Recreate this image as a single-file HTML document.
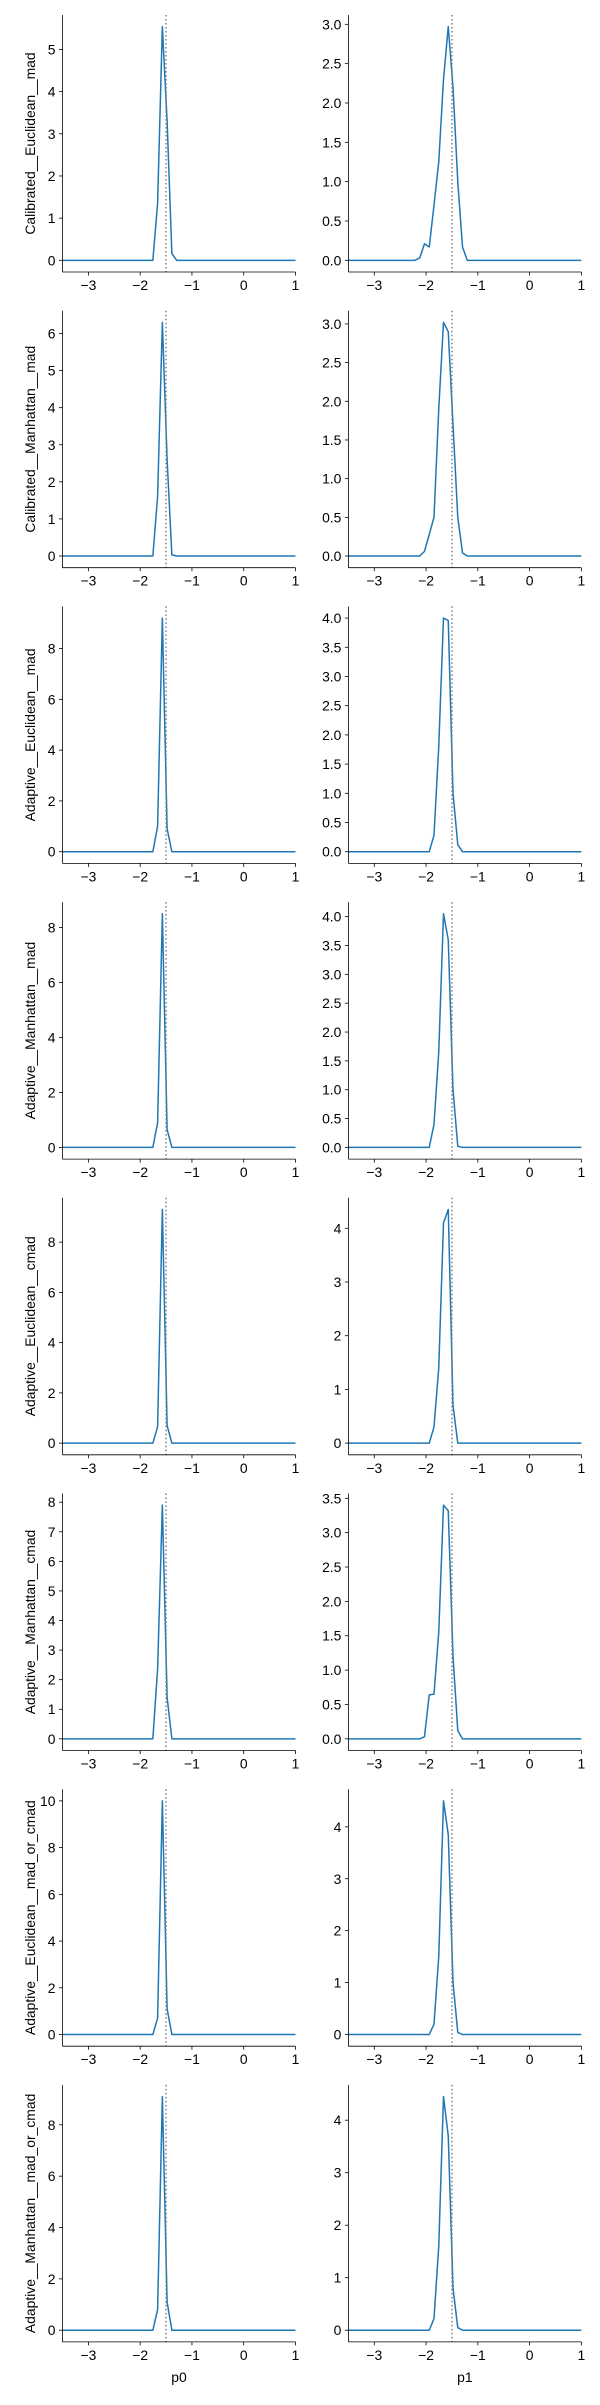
<!DOCTYPE html>
<html>
<head>
<meta charset="utf-8">
<style>
html,body{margin:0;padding:0;background:#fff;}
svg text{font-family:"Liberation Sans","DejaVu Sans",sans-serif;font-size:13.9px;fill:#000;}
</style>
</head>
<body>
<svg id="chart" width="600" height="2400" viewBox="0 0 600 2400" xmlns="http://www.w3.org/2000/svg"></svg>
<script>
// x grid: 50 evaluation points between -3.5 and 1 (linspace)
const xMin = -3.5, xMax = 1, nPoints = 50;
const startIndex = 14; // values below cover grid points 14..25, all others are 0
const trueValue = -1.5;
const xTicks = [-3, -2, -1, 0, 1];
const xTickLabels = ["\u22123", "\u22122", "\u22121", "0", "1"];
const rowLabels = ["Calibrated__Euclidean__mad","Calibrated__Manhattan__mad","Adaptive__Euclidean__mad","Adaptive__Manhattan__mad","Adaptive__Euclidean__cmad","Adaptive__Manhattan__cmad","Adaptive__Euclidean__mad_or_cmad","Adaptive__Manhattan__mad_or_cmad"];
const colLabels = ["p0", "p1"];

const p0Row1 = [0,0,0,0,0,0,1.35,5.54,3.3,0.16,0,0];
const p0Row2 = [0,0,0,0,0,0,1.6,6.3,2.6,0.03,0,0];
const p0Row3 = [0,0,0,0,0,0,1.0,9.2,0.9,0,0,0];
const p0Row4 = [0,0,0,0,0,0,0.9,8.5,0.65,0,0,0];
const p0Row5 = [0,0,0,0,0,0,0.65,9.3,0.7,0,0,0];
const p0Row6 = [0,0,0,0,0,0,2.35,7.9,1.4,0,0,0];
const p0Row7 = [0,0,0,0,0,0,0.7,10.0,1.1,0,0,0];
const p0Row8 = [0,0,0,0,0,0,0.8,9.1,1.1,0,0,0];

const p1Row1 = [0,0.03,0.21,0.17,0.7,1.25,2.3,2.97,2.2,1.0,0.17,0];
const p1Row2 = [0,0,0.06,0.28,0.5,1.9,3.02,2.9,1.7,0.5,0.04,0];
const p1Row3 = [0,0,0,0,0.28,1.8,4.0,3.96,1.0,0.12,0,0];
const p1Row4 = [0,0,0,0,0.4,1.65,4.05,3.6,1.0,0.02,0,0];
const p1Row5 = [0,0,0,0,0.3,1.4,4.1,4.35,0.7,0,0,0];
const p1Row6 = [0,0,0.03,0.64,0.65,1.55,3.4,3.32,1.2,0.12,0,0];
const p1Row7 = [0,0,0,0,0.2,1.5,4.5,3.85,1.0,0.04,0,0];
const p1Row8 = [0,0,0,0,0.22,1.6,4.45,3.7,0.8,0.05,0,0];

const p0Series = [p0Row1,p0Row2,p0Row3,p0Row4,p0Row5,p0Row6,p0Row7,p0Row8];
const p1Series = [p1Row1,p1Row2,p1Row3,p1Row4,p1Row5,p1Row6,p1Row7,p1Row8];

const p0Ticks = [[0,1,2,3,4,5],[0,1,2,3,4,5,6],[0,2,4,6,8],[0,2,4,6,8],[0,2,4,6,8],[0,1,2,3,4,5,6,7,8],[0,2,4,6,8,10],[0,2,4,6,8]];
const p1Ticks = [[0,0.5,1,1.5,2,2.5,3],[0,0.5,1,1.5,2,2.5,3],[0,0.5,1,1.5,2,2.5,3,3.5,4],[0,0.5,1,1.5,2,2.5,3,3.5,4],[0,1,2,3,4],[0,0.5,1,1.5,2,2.5,3,3.5],[0,1,2,3,4],[0,1,2,3,4]];
const p1TickDecimals = [1,1,1,1,0,1,0,0];

const NS = "http://www.w3.org/2000/svg";
const svg = document.getElementById("chart");
function mk(tag, attrs, parent){
  const e = document.createElementNS(NS, tag);
  for (const k in attrs) e.setAttribute(k, attrs[k]);
  (parent||svg).appendChild(e);
  return e;
}
const colLeft = [62.5, 348.4], colWidth = 233;
const rowTop0 = 15, rowStep = 295.7, axH = 257;

function fullSeries(vals){
  const ys = [];
  for (let k=0;k<nPoints;k++){
    const j = k - startIndex;
    ys.push(j>=0 && j<vals.length ? vals[j] : 0);
  }
  return ys;
}

for (let r=0;r<8;r++){
  for (let c=0;c<2;c++){
    const left = colLeft[c], top = rowTop0 + r*rowStep, bottom = top + axH, right = left + colWidth;
    const vals = c===0 ? p0Series[r] : p1Series[r];
    const ys = fullSeries(vals);
    let vmax = Math.max(...ys), vmin = Math.min(...ys);
    const span = vmax - vmin || 1;
    const yLo = vmin - 0.05*span, yHi = vmax + 0.05*span;
    const xScale = v => left + (v - xMin)/(xMax - xMin)*colWidth;
    const yScale = v => bottom - (v - yLo)/(yHi - yLo)*axH;

    const g = mk("g", {});
    
    

    // series line
    const pts = ys.map((y,k)=>{
      const xv = xMin + k*(xMax-xMin)/(nPoints-1);
      return xScale(xv).toFixed(2)+","+yScale(y).toFixed(2);
    }).join(" ");
    const line = mk("polyline", {points:pts, fill:"none", stroke:"#1f77b4", "stroke-width":1.5, "stroke-linejoin":"round"}, g);
    
    

    // true-value marker
    const tx = xScale(trueValue);
    const vl = mk("line", {x1:tx, x2:tx, y1:top, y2:bottom, stroke:"#808080", "stroke-width":1.5, "stroke-dasharray":"1.5,2.5"}, g);
    
    

    // spines
    const sl = mk("line", {x1:left, x2:left, y1:top, y2:bottom, stroke:"#000", "stroke-width":0.8}, g);
    
    
    const sb = mk("line", {x1:left, x2:right, y1:bottom, y2:bottom, stroke:"#000", "stroke-width":0.8}, g);
    
    

    // x ticks
    xTicks.forEach((t,i)=>{
      const x = xScale(t);
      const tk = mk("line", {x1:x, x2:x, y1:bottom, y2:bottom+3.5, stroke:"#000", "stroke-width":0.8}, g);
      
      
      const tl = mk("text", {x:x, y:bottom+18, "text-anchor":"middle"}, g);
      tl.textContent = xTickLabels[i];
      
      
    });

    // y ticks
    const yt = c===0 ? p0Ticks[r] : p1Ticks[r];
    const dec = c===0 ? 0 : p1TickDecimals[r];
    yt.forEach(t=>{
      const y = yScale(t);
      const tk = mk("line", {x1:left-3.5, x2:left, y1:y, y2:y, stroke:"#000", "stroke-width":0.8}, g);
      
      
      const tl = mk("text", {x:left-7, y:y+5, "text-anchor":"end"}, g);
      tl.textContent = t.toFixed(dec);
      
      
    });

    if (c===0){
      const cy = top + axH/2;
      const yl = mk("text", {x:0, y:0, "text-anchor":"middle", transform:"translate(35,"+cy+") rotate(-90)"}, g);
      yl.textContent = rowLabels[r];
      
      
    }
    if (r===7){
      const xl = mk("text", {x:left+colWidth/2, y:bottom+40, "text-anchor":"middle"}, g);
      xl.textContent = colLabels[c];
      
      
    }
  }
}
</script>
</body>
</html>
